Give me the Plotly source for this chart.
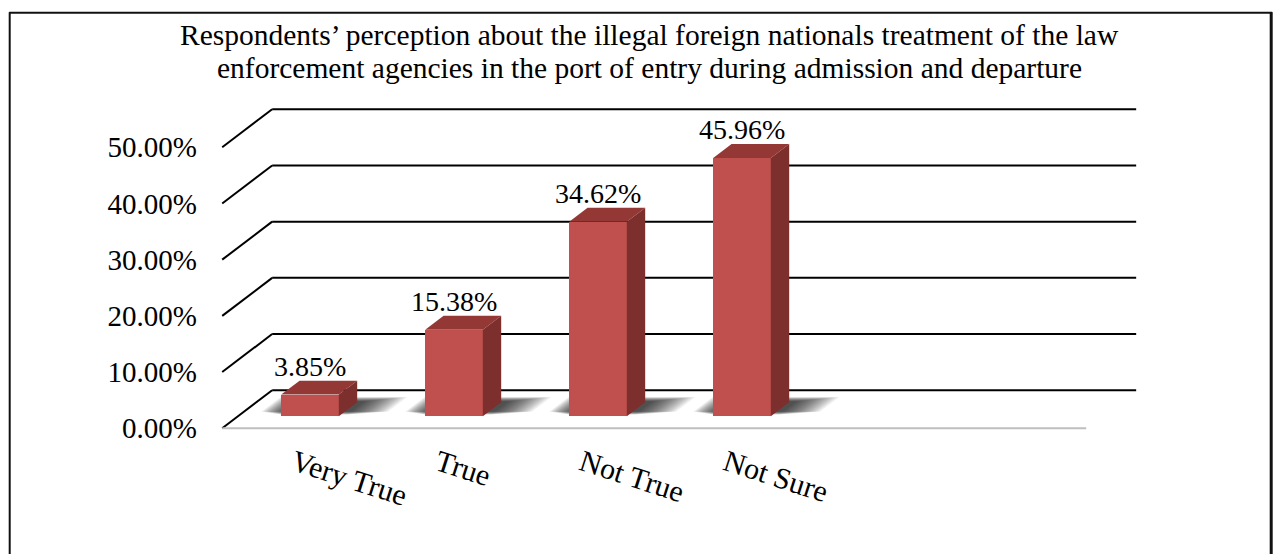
import plotly.graph_objects as go

# ---- data -------------------------------------------------------------
CATEGORIES = ["Very True", "True", "Not True", "Not Sure"]
VALUES = [3.85, 15.38, 34.62, 45.96]          # percent of respondents
N_SLOTS = 6                                    # category slots on the floor
Y_TICKS = [0, 10, 20, 30, 40, 50]
Y_TICK_TEXT = ["0.00%", "10.00%", "20.00%", "30.00%", "40.00%", "50.00%"]
TITLE_LINES = [
    "Respondents\u2019 perception about the illegal foreign nationals treatment of the law",
    "enforcement agencies in the port of entry during admission and departure",
]

# ---- pseudo-3D geometry (in axis units) -------------------------------
DX, DY = 0.347, 6.76        # offset from the front plane to the back wall
D_FRONT, D_BACK = 0.316, 0.684   # depth band occupied by the columns
BAR_W = 0.40

FRONT = "#C0504D"
TOP = "#943836"
SIDE = "#7D2F2E"
FONT = "Liberation Serif"

# ---- page layout -------------------------------------------------------
W, H = 1278, 554
PX_X, PX_Y = 144.0, 5.62        # pixels per category / per percent
OX, OY = 222.0, 428.0           # pixel position of (slot edge, 0 %)
X_LO, X_HI = -0.55, 5.95
Y_LO, Y_HI = -1.2, 59.3
ML = OX + (X_LO + 0.5) * PX_X
MR = W - (OX + (X_HI + 0.5) * PX_X)
MT = OY - Y_HI * PX_Y
MB = H - (OY - Y_LO * PX_Y)


def paper_x(px):
    return (px - ML) / (W - ML - MR)


def paper_y(py):
    return (H - MB - py) / (H - MT - MB)


def poly_path(xs, ys):
    pts = " L ".join(f"{x:.5f},{y:.5f}" for x, y in zip(xs, ys))
    return f"M {pts} Z"


fig = go.Figure()
shapes = []

# back-wall gridlines and the left-wall diagonals
for t in Y_TICKS:
    shapes.append(dict(type="line", xref="x", yref="y", layer="below",
                       x0=-0.5 + DX, x1=N_SLOTS - 0.5 + DX, y0=t + DY, y1=t + DY,
                       line=dict(color="#000000", width=2)))
    shapes.append(dict(type="line", xref="x", yref="y", layer="below",
                       x0=-0.5, x1=-0.5 + DX, y0=t, y1=t + DY,
                       line=dict(color="#000000", width=2)))

# front edge of the floor
shapes.append(dict(type="line", xref="x", yref="y", layer="below",
                   x0=-0.5, x1=N_SLOTS - 0.5, y0=0, y1=0,
                   line=dict(color="#BFBFBF", width=2)))

# soft shadows on the floor around each column footprint (stacked translucent layers)
N_LAYERS = 18
for i, v in enumerate(VALUES):
    xl = i - BAR_W / 2
    xr = i + BAR_W / 2
    for k in range(N_LAYERS):
        f = 1 - k / N_LAYERS
        ex_l = 0.01 + 0.17 * f
        ex_r = 0.03 + 0.27 * f
        da = D_FRONT + 0.04 + 0.08 * f
        db = D_BACK + 0.02 + 0.12 * f
        xs = [xl - ex_l + da * DX, xr + ex_r + da * DX, xr + ex_r + db * DX, xl - ex_l + db * DX]
        ys = [da * DY, da * DY, db * DY, db * DY]
        shapes.append(dict(type="path", xref="x", yref="y", layer="below",
                           path=poly_path(xs, ys), fillcolor="rgba(0,0,0,0.06)",
                           line=dict(width=0)))

# column front faces
fig.add_trace(go.Bar(
    x=[i + D_FRONT * DX for i in range(len(VALUES))],
    y=VALUES,
    base=[D_FRONT * DY] * len(VALUES),
    width=BAR_W,
    marker=dict(color=FRONT, line=dict(width=0)),
    hoverinfo="skip", showlegend=False,
))

# column tops and sides
depth = D_BACK - D_FRONT
for i, v in enumerate(VALUES):
    xl = i - BAR_W / 2 + D_FRONT * DX
    xr = i + BAR_W / 2 + D_FRONT * DX
    y0 = D_FRONT * DY
    y1 = v + D_FRONT * DY
    ddx, ddy = depth * DX, depth * DY
    fig.add_trace(go.Scatter(
        x=[xl, xr, xr + ddx, xl + ddx, xl], y=[y1, y1, y1 + ddy, y1 + ddy, y1],
        mode="lines", fill="toself", fillcolor=TOP, line=dict(width=0),
        hoverinfo="skip", showlegend=False))
    fig.add_trace(go.Scatter(
        x=[xr, xr + ddx, xr + ddx, xr, xr], y=[y0, y0 + ddy, y1 + ddy, y1, y0],
        mode="lines", fill="toself", fillcolor=SIDE, line=dict(width=0),
        hoverinfo="skip", showlegend=False))

# value labels above each column
annotations = []
for i, v in enumerate(VALUES):
    annotations.append(dict(
        x=i + D_FRONT * DX, y=v + D_BACK * DY, xref="x", yref="y",
        text=f"{v:.2f}%", showarrow=False, yanchor="bottom", yshift=-3,
        font=dict(family=FONT, size=28, color="#000000")))

# two-line chart title
for line_text, cy in zip(TITLE_LINES, [35, 68]):
    annotations.append(dict(
        x=paper_x(649), y=paper_y(cy), xref="paper", yref="paper",
        text=line_text, showarrow=False, xanchor="center", yanchor="middle",
        font=dict(family=FONT, size=29.5, color="#000000")))

# outer frame (left, top, right)
for x0, y0, x1, y1, w in [(9.5, 12, 9.5, H + 5, 2), (9, 12.5, 1272, 12.5, 2),
                          (1271, 12, 1271, H + 5, 3)]:
    shapes.append(dict(type="line", xref="paper", yref="paper",
                       x0=paper_x(x0), x1=paper_x(x1), y0=paper_y(y0), y1=paper_y(y1),
                       line=dict(color="#111111", width=w)))

fig.update_layout(
    width=W, height=H,
    margin=dict(l=ML, r=MR, t=MT, b=MB, pad=0),
    paper_bgcolor="white", plot_bgcolor="white",
    font=dict(family=FONT, color="#000000"),
    xaxis=dict(range=[X_LO, X_HI], showgrid=False, zeroline=False, showline=False,
               tickmode="array", tickvals=list(range(len(CATEGORIES))), ticktext=CATEGORIES,
               tickangle=18, ticks="", ticklabelstandoff=4,
               tickfont=dict(family=FONT, size=30, color="#000000"), fixedrange=True),
    yaxis=dict(range=[Y_LO, Y_HI], showgrid=False, zeroline=False, showline=False,
               tickmode="array", tickvals=Y_TICKS, ticktext=Y_TICK_TEXT,
               ticks="", ticklabelstandoff=17,
               tickfont=dict(family=FONT, size=29, color="#000000"), fixedrange=True),
    shapes=shapes,
    annotations=annotations,
    bargap=0,
)

fig.write_html("out.html")
